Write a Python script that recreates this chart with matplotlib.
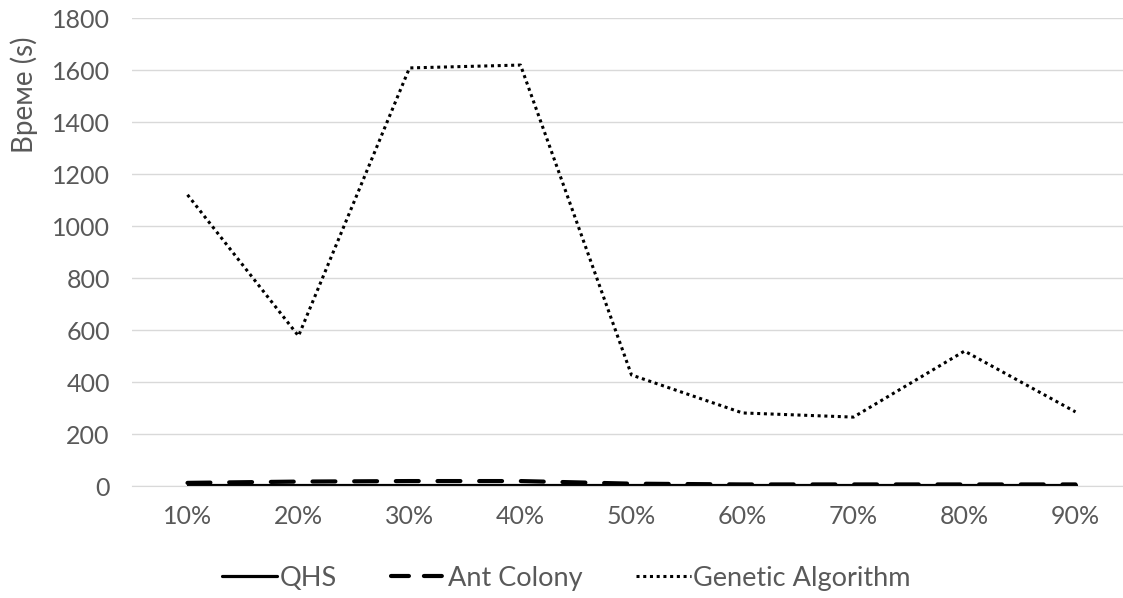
import matplotlib.pyplot as plt
import numpy as np

# Данные
categories = ['10%', '20%', '30%', '40%', '50%', '60%', '70%', '80%', '90%']
qhs = [2, 2, 2, 2, 2, 2, 2, 2, 2]
ant_colony = [12, 17, 19, 19, 9, 6, 6, 6, 6]
genetic = [1120, 577, 1608, 1619, 427, 281, 265, 519, 285]

plt.rcParams['font.family'] = ['Lato', 'DejaVu Sans']
grey = '#595959'

fig = plt.figure(figsize=(11.23, 5.98), dpi=100)
ax = fig.add_axes([132 / 1123, 112 / 598, 999 / 1123, 468 / 598])

x = np.arange(len(categories))
ax.plot(x, qhs, '-', color='black', linewidth=2.3, label='QHS', solid_capstyle='round')
ax.plot(x, ant_colony, color='black', linewidth=3, label='Ant Colony',
        linestyle=(0, (5.5, 4.5)), dash_capstyle='round')
ax.plot(x, genetic, color='black', linewidth=2.2, label='Genetic Algorithm',
        linestyle=(0, (1, 1.2)))

ax.set_xlim(-0.5, 8.5)
ax.set_ylim(0, 1800)
ax.set_yticks(range(0, 1801, 200))
ax.set_xticks(x)
ax.set_xticklabels(categories)
ax.grid(axis='y', color='#d9d9d9', linewidth=1)
ax.set_axisbelow(True)
for s in ['top', 'right', 'left']:
    ax.spines[s].set_visible(False)
ax.spines['bottom'].set_color('#d9d9d9')
ax.tick_params(length=0, labelsize=18, colors=grey)
ax.tick_params(axis='y', pad=16)
ax.tick_params(axis='x', pad=14)

ax.set_ylabel('Време (s)', fontsize=20, color=grey)
ax.yaxis.set_label_coords(-0.094, 0.835)

leg = ax.legend(loc='center', bbox_to_anchor=(0.435, -0.197), ncol=3, frameon=False,
                fontsize=19.5, labelcolor=grey, handlelength=2.0, handletextpad=0.1,
                columnspacing=2.0)
# в легенде — два коротких штриха
leg.get_lines()[1].set_linestyle((0, (4.3, 3.6)))

fig.savefig('out.png', dpi=100)
